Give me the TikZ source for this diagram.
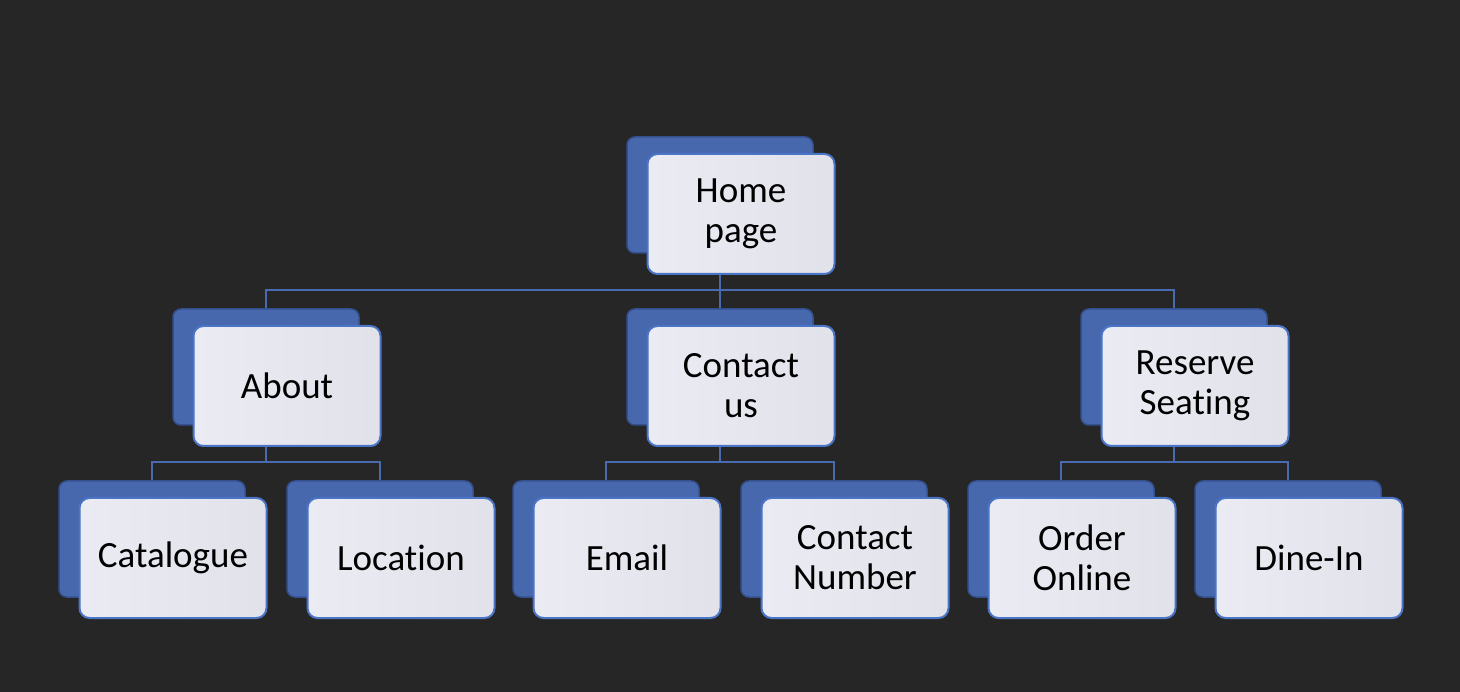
\documentclass[tikz,border=0pt]{standalone}
\usepackage{fontspec}
\setmainfont{Carlito}[Ligatures=NoCommon]
\definecolor{bgc}{HTML}{262626}
\definecolor{backblue}{HTML}{4868AE}
\definecolor{backedge}{HTML}{34508F}
\definecolor{frontfill}{HTML}{EBEBF4}
\definecolor{frontedge}{HTML}{4A74C6}
\definecolor{connc}{HTML}{4A6AB0}
\tikzset{
  backbox/.style={draw=backedge, fill=backblue, rounded corners=8pt, minimum width=186pt, minimum height=116pt, line width=1.5pt, inner sep=0pt},
  frontbox/.style={draw=frontedge, left color=frontfill, right color=frontfill!96!black, rounded corners=10pt, minimum width=187pt, minimum height=120pt, line width=2pt, inner sep=0pt, align=center, text=black, font=\fontsize{37}{40}\selectfont},
  conn/.style={draw=connc, line width=2.5pt}
}
\begin{document}
\begin{tikzpicture}[x=1pt,y=-1pt]
\fill[bgc] (0,0) rectangle (1460,692);
\useasboundingbox (0,0) rectangle (1460,692);
% back boxes
\node[backbox] (hb) at (720,195) {};
\node[backbox] (ab) at (266,367) {};
\node[backbox] (cb) at (720,367) {};
\node[backbox] (rb) at (1174,367) {};
\node[backbox] (cab) at (152,539) {};
\node[backbox] (lob) at (380,539) {};
\node[backbox] (emb) at (606,539) {};
\node[backbox] (cnb) at (834,539) {};
\node[backbox] (oob) at (1061,539) {};
\node[backbox] (dib) at (1288,539) {};
% connectors
\draw[conn] (hb.south) -- (hb |- 0,290) -| (ab.north);
\draw[conn] (hb |- 0,290) -| (rb.north);
\draw[conn] (hb |- 0,290) -- (cb.north);
\draw[conn] (ab.south) -- (ab |- 0,462) -| (cab.north);
\draw[conn] (ab |- 0,462) -| (lob.north);
\draw[conn] (cb.south) -- (cb |- 0,462) -| (emb.north);
\draw[conn] (cb |- 0,462) -| (cnb.north);
\draw[conn] (rb.south) -- (rb |- 0,462) -| (oob.north);
\draw[conn] (rb |- 0,462) -| (dib.north);
% front boxes
\node[frontbox] (h) at (741,214) {Home\\page};
\node[frontbox] (a) at (287,386) {About};
\node[frontbox] (c) at (741,386) {Contact\\us};
\node[frontbox] (r) at (1195,386) {Reserve\\Seating};
\node[frontbox] (ca) at (173,558) {Catalogue};
\node[frontbox] (lo) at (401,558) {Location};
\node[frontbox] (em) at (627,558) {Email};
\node[frontbox] (cn) at (855,558) {Contact\\Number};
\node[frontbox] (oo) at (1082,558) {Order\\Online};
\node[frontbox] (di) at (1309,558) {Dine-In};
\end{tikzpicture}
\end{document}
